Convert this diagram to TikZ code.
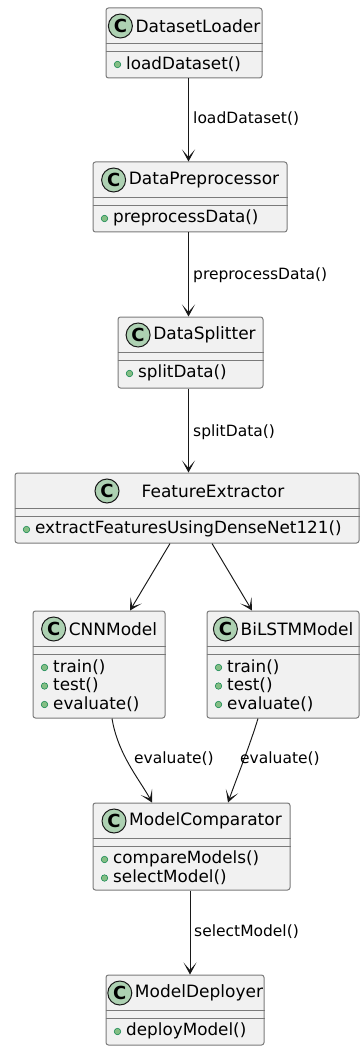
\documentclass[tikz,border=0pt]{standalone}
\usepackage{fontspec}
\setmainfont{DejaVu Sans}
\usetikzlibrary{arrows.meta,positioning,calc}
\definecolor{boxfill}{HTML}{F1F1F1}
\definecolor{boxline}{HTML}{7A7A7A}
\definecolor{circfill}{HTML}{ADD1B2}
\definecolor{darkline}{HTML}{181818}
\definecolor{dotfill}{HTML}{84BE84}
\definecolor{dotline}{HTML}{038048}
\tikzset{
  cls/.style={draw=boxline, fill=boxfill, line width=1pt, rounded corners=2.5pt, inner sep=0pt},
  sepline/.style={draw=boxline, line width=1pt},
  ctitle/.style={inner sep=0pt, font=\fontsize{17}{20}\selectfont, text=black, anchor=center},
  cicon/.style={circle, draw=darkline, fill=circfill, line width=1pt, minimum size=24pt, inner sep=0pt, font=\fontsize{18}{18}\selectfont\bfseries},
  meth/.style={inner sep=0pt, font=\fontsize{16.8}{20}\selectfont, text=black, anchor=west},
  mdot/.style={circle, draw=dotline, fill=dotfill, line width=0.5pt, minimum size=6.5pt, inner sep=0pt},
  conn/.style={draw=darkline, line width=0.95pt, -{Stealth[length=12pt,width=13pt,inset=7.5pt]}},
  elabel/.style={inner sep=0pt, font=\fontsize{15.5}{18}\selectfont, text=black, anchor=west},
}
% box and compartments: #1 id, #2 left, #3 top, #4 right, #5 bottom
\newcommand{\umlbox}[5]{%
  \node[cls, minimum width={#4-#2}, minimum height={#5-#3}] (#1) at ({(#2+#4)/2},{-(#3+#5)/2}) {};
  \draw[sepline] ($(#1.north west)+(0,-36)$) -- ($(#1.north east)+(0,-36)$);
  \draw[sepline] ($(#1.north west)+(0,-44)$) -- ($(#1.north east)+(0,-44)$);
}
% #1 id, #2 left, #3 top, #4 right, #5 bottom, #6 title
\newcommand{\umlclass}[6]{%
  \umlbox{#1}{#2}{#3}{#4}{#5}
  \node[ctitle] (#1-t) at ({(#2+#4)/2+14},{-#3-18}) {#6};
  \node[cicon] (#1-c) at ($(#1-t.west)+(-15,0)$) {C};
}
% #1 id, #2 index, #3 text
\newcommand{\umlmeth}[3]{%
  \node[mdot] (#1-d#2) at ($(#1.north west)+(12,{-57-18.5*(#2-1)})$) {};
  \node[meth] (#1-m#2) at ($(#1.north west)+(20.5,{-56.5-18.5*(#2-1)})$) {#3};
}
\begin{document}
\begin{tikzpicture}[x=1pt,y=1pt]
\useasboundingbox (0,0) rectangle (361,-1048);
\fill[white] (0,0) rectangle (361,-1048);

\umlclass{dl}{106}{8}{262}{78}{DatasetLoader}
\umlmeth{dl}{1}{loadDataset()}

\umlclass{dp}{93}{162}{287}{232}{DataPreprocessor}
\umlmeth{dp}{1}{preprocessData()}

\umlclass{ds}{118}{317}{263}{388}{DataSplitter}
\umlmeth{ds}{1}{splitData()}

\umlbox{fe}{15}{473}{359}{543}
\node[ctitle] (fe-t) at (213,-491) {FeatureExtractor};
\node[cicon] (fe-c) at (107,-491) {C};
\umlmeth{fe}{1}{extractFeaturesUsingDenseNet121()}

\umlclass{cnn}{33}{611}{165}{718}{CNNModel}
\umlmeth{cnn}{1}{train()}
\umlmeth{cnn}{2}{test()}
\umlmeth{cnn}{3}{evaluate()}

\umlclass{bl}{207}{611}{359}{718}{BiLSTMModel}
\umlmeth{bl}{1}{train()}
\umlmeth{bl}{2}{test()}
\umlmeth{bl}{3}{evaluate()}

\umlclass{mc}{93}{803}{290}{890}{ModelComparator}
\umlmeth{mc}{1}{compareModels()}
\umlmeth{mc}{2}{selectModel()}

\umlclass{md}{106}{975}{264}{1045}{ModelDeployer}
\umlmeth{md}{1}{deployModel()}

% connectors
\coordinate (a1) at (188.5,-78);
\draw[conn] (dl.south -| a1) -- (dp.north -| a1);
\node[elabel] (l1) at (193,-119) {loadDataset()};

\coordinate (a2) at (188.5,-232);
\draw[conn] (dp.south -| a2) -- (ds.north -| a2);
\node[elabel] (l2) at (193,-275) {preprocessData()};

\coordinate (a3) at (188.5,-388);
\draw[conn] (ds.south -| a3) -- (fe.north -| a3);
\node[elabel] (l3) at (193,-432) {splitData()};

\coordinate (b1) at (170,-543);
\coordinate (b2) at (130,-611);
\draw[conn] (fe.south -| b1) -- (cnn.north -| b2);
\coordinate (c1) at (212,-543);
\coordinate (c2) at (252,-611);
\draw[conn] (fe.south -| c1) -- (bl.north -| c2);

\coordinate (d1) at (112,-718);
\coordinate (d2) at (152,-803);
\draw[conn] (cnn.south -| d1) .. controls (118,-755) and (140,-780) .. (mc.north -| d2);
\node[elabel] (l4) at (134,-759) {evaluate()};

\coordinate (e1) at (258,-718);
\coordinate (e2) at (228,-803);
\draw[conn] (bl.south -| e1) .. controls (250,-745) and (236,-780) .. (mc.north -| e2);
\node[elabel] (l5) at (240,-759) {evaluate()};

\coordinate (a4) at (190,-890);
\draw[conn] (mc.south -| a4) -- (md.north -| a4);
\node[elabel] (l6) at (194,-932) {selectModel()};
\end{tikzpicture}
\end{document}
